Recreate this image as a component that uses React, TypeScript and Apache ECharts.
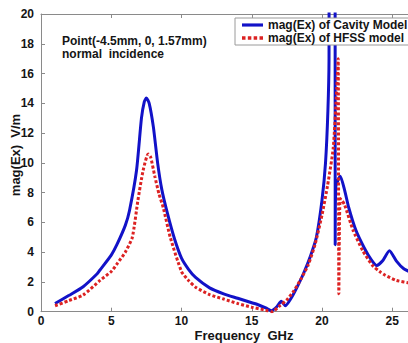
import React, { useEffect, useRef } from "react";
import * as echarts from "echarts";

const cavityFreq = [1, 2, 3, 4, 4.2, 5, 5.4, 6, 6.3, 6.8, 7.15, 7.35, 7.5, 7.7, 8.0, 8.3, 8.6, 9.0, 9.5, 10, 10.5, 11, 12, 13, 14, 15, 15.5, 16, 16.4, 16.8, 17.1, 17.4, 17.8, 18.2, 18.7, 19.2, 19.6, 20.0, 20.25, 20.42, 20.5, 20.54, 20.92, 20.94, 20.98, 21.3, 21.6, 21.9, 22.4, 23.0, 23.5, 23.9, 24.3, 24.8, 25.3, 25.8, 26.4];
const cavityMag = [0.55, 1.1, 1.68, 2.55, 2.8, 3.8, 4.5, 5.8, 6.8, 9.5, 13.0, 14.1, 14.35, 14.0, 12.4, 10.0, 8.2, 6.6, 4.9, 3.6, 2.85, 2.3, 1.6, 1.2, 0.9, 0.6, 0.45, 0.25, 0.07, 0.35, 0.7, 0.4, 0.9, 1.6, 2.6, 3.8, 5.0, 7.5, 10.0, 13.5, 17, 40, 40, 4.5, 8.4, 9.1, 8.2, 7.0, 5.5, 4.3, 3.5, 3.1, 3.4, 4.1, 3.4, 2.9, 2.6];

const hfssFreq = [1, 2, 3, 4.2, 5, 5.4, 6, 6.5, 6.9, 7.27, 7.63, 7.8, 8.1, 8.4, 8.7, 9.2, 10, 10.5, 11, 12, 13, 14, 15, 16, 16.45, 17, 17.5, 18, 18.5, 19, 19.5, 20, 20.4, 20.8, 21.05, 21.15, 21.2, 21.3, 21.6, 22.2, 22.9, 23.6, 24.1, 24.5, 25.3, 26.4];
const hfssMag = [0.4, 0.75, 1.12, 2.1, 2.7, 3.2, 4.0, 5.0, 7.5, 9.5, 10.6, 10.4, 9.1, 7.9, 7.0, 5.0, 2.7, 2.1, 1.65, 1.15, 0.85, 0.55, 0.3, 0.1, 0.0, 0.4, 0.8, 1.4, 2.2, 3.1, 4.5, 6.5, 8.5, 11, 15, 17, 1.2, 7.6, 7.2, 5.5, 4.1, 3.1, 2.7, 2.45, 2.1, 1.9];

const xTicks = [0, 5, 10, 15, 20, 25, 30];
const yTicks = [0, 2, 4, 6, 8, 10, 12, 14, 16, 18, 20];

const seriesNames = ["mag(Ex) of Cavity Model", "mag(Ex) of HFSS model"];

const FONT = "Liberation Sans, Arial, sans-serif";

export default function App() {
  const ref = useRef<HTMLDivElement>(null);
  useEffect(() => {
    const el = ref.current;
    if (!el) return;
    const chart = echarts.init(el, undefined, { renderer: "svg" });
    const pair = (xs: number[], ys: number[]) => xs.map((x, i) => [x, ys[i]]);
    const axisColor = "#8a8a8a";
    const blue = "#1212c8";
    const red = "#dc2222";
    chart.setOption({
      animation: false,
      backgroundColor: "#ffffff",
      grid: { left: 41, top: 14, width: 421.5, height: 297.7 },
      xAxis: [
        {
          type: "value",
          min: xTicks[0],
          max: xTicks[xTicks.length - 1],
          interval: 5,
          axisLine: { show: true, lineStyle: { color: axisColor, width: 1 } },
          axisTick: { show: true, inside: true, length: 4, lineStyle: { color: axisColor } },
          splitLine: { show: false },
          axisLabel: { color: "#151515", fontSize: 12, fontWeight: "bold", fontFamily: FONT, margin: 3, showMaxLabel: false, lineHeight: 12 },
        },
        {
          type: "value",
          position: "top",
          min: xTicks[0],
          max: xTicks[xTicks.length - 1],
          interval: 5,
          axisLine: { show: true, lineStyle: { color: axisColor, width: 1 } },
          axisTick: { show: true, inside: true, length: 4, lineStyle: { color: axisColor } },
          splitLine: { show: false },
          axisLabel: { show: false },
        },
      ],
      yAxis: {
        type: "value",
        min: yTicks[0],
        max: yTicks[yTicks.length - 1],
        interval: 2,
        axisLine: { show: true, lineStyle: { color: axisColor, width: 1 } },
        axisTick: { show: true, inside: true, length: 4, lineStyle: { color: axisColor } },
        splitLine: { show: false },
        axisLabel: { color: "#151515", fontSize: 12, fontWeight: "bold", fontFamily: FONT, margin: 7 },
      },
      legend: {
        show: true,
        orient: "vertical",
        left: 235,
        top: 18,
        padding: [1, 3, 1, 7],
        itemGap: 1,
        itemWidth: 21,
        itemHeight: 13,
        borderColor: "#9a9a9a",
        borderWidth: 1,
        backgroundColor: "#ffffff",
        textStyle: { color: "#151515", fontSize: 12, fontWeight: "bold", fontFamily: FONT },
        data: [
          { name: seriesNames[0], icon: "path://M0,0h20v3h-20z", itemStyle: { color: blue } },
          {
            name: seriesNames[1],
            icon: "path://M0,0h3v3h-3z M5,0h3v3h-3z M10,0h3v3h-3z M15,0h3v3h-3z",
            itemStyle: { color: red },
          },
        ],
      },
      series: [
        {
          name: seriesNames[0],
          type: "line",
          data: pair(cavityFreq, cavityMag),
          symbol: "none",
          smooth: 0.2,
          clip: true,
          lineStyle: { color: blue, width: 3 },
          itemStyle: { color: blue },
          z: 2,
        },
        {
          name: seriesNames[1],
          type: "line",
          data: pair(hfssFreq, hfssMag),
          symbol: "none",
          smooth: 0.2,
          clip: true,
          lineStyle: { color: red, width: 3, type: [3, 2] },
          itemStyle: { color: red },
          z: 3,
        },
      ],
      graphic: [
        {
          type: "text",
          left: 62,
          top: 35,
          style: { text: "Point(-4.5mm, 0, 1.57mm)", fill: "#151515", font: `bold 12px ${FONT}` },
        },
        {
          type: "text",
          left: 62,
          top: 48,
          style: { text: "normal  incidence", fill: "#151515", font: `bold 12px ${FONT}` },
        },
        {
          type: "text",
          x: 244,
          y: 335,
          style: { text: "Frequency  GHz", fill: "#151515", font: `bold 13px ${FONT}`, align: "center", verticalAlign: "middle" },
        },
        {
          type: "text",
          x: 15.5,
          y: 155,
          rotation: Math.PI / 2,
          style: { text: "mag(Ex)  V/m", fill: "#151515", font: `bold 13px ${FONT}`, align: "center", verticalAlign: "middle" },
        },
      ],
    });
    return () => chart.dispose();
  }, []);
  return (
    <div
      ref={ref}
      style={{ position: "fixed", left: 0, top: 0, width: 480, height: 343, background: "#fff" }}
    />
  );
}
